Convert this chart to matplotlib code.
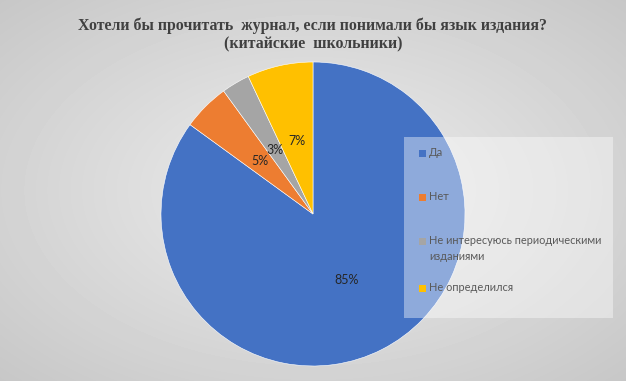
import numpy as np
import matplotlib.pyplot as plt
from matplotlib.patches import Rectangle

# data
categories = ['Да', 'Нет', 'Не интересуюсь периодическими\nизданиями', 'Не определился']
values = [85, 5, 3, 7]
colors = ['#4472c4', '#ed7d31', '#a5a5a5', '#ffc000']
title = 'Хотели бы прочитать  журнал, если понимали бы язык издания?\n(китайские  школьники)'

fig = plt.figure(figsize=(6.26, 3.81), dpi=100)

# radial grey background
bg = fig.add_axes([0, 0, 1, 1], zorder=0)
yy, xx = np.mgrid[0:381, 0:626]
d = np.sqrt(((xx - 313) / 313.0) ** 2 + ((yy - 190) / 190.0) ** 2) / np.sqrt(2)
shade = 0.93 - 0.15 * d
bg.imshow(shade, cmap='gray', vmin=0, vmax=1, aspect='auto', extent=[0, 1, 0, 1])
bg.axis('off')

# title
fig.text(0.5, 0.955, title, ha='center', va='top', fontsize=11.4, fontweight='bold',
         family='Liberation Serif', color='#404040', linespacing=1.2)

# pie: centre (313,214), radius ~152 px
r = 152
ax = fig.add_axes([(313 - r) / 626, (381 - 214 - r) / 381, 2 * r / 626, 2 * r / 381], zorder=1)
wedges, texts, autotexts = ax.pie(values, colors=colors, startangle=90, counterclock=False,
                                  autopct='%1.0f%%', pctdistance=0.49,
                                  wedgeprops=dict(edgecolor='white', linewidth=0.4))
for t in autotexts:
    t.set_fontsize(9)
    t.set_color('#262626')
    t.set_family('Lato')
ax.set_xlim(-1, 1)
ax.set_ylim(-1, 1)
ax.set_aspect('equal')
ax.axis('off')

# legend box (semi-transparent overlay)
lg = fig.add_axes([0, 0, 1, 1], zorder=2)
lg.set_xlim(0, 626)
lg.set_ylim(381, 0)
lg.axis('off')
lg.add_patch(Rectangle((404, 137), 209, 181, facecolor='white', alpha=0.4, edgecolor='none'))
ys = [153, 197, 241, 288]
for c, lab, y in zip(colors, categories, ys):
    lg.add_patch(Rectangle((419, y - 3.5), 7, 7, facecolor=c, edgecolor='none'))
    lg.text(429, y - 6, lab, va='top', ha='left', fontsize=7.9,
            family='Lato', color='#595959', linespacing=1.6)

fig.savefig('out.png', dpi=100)
